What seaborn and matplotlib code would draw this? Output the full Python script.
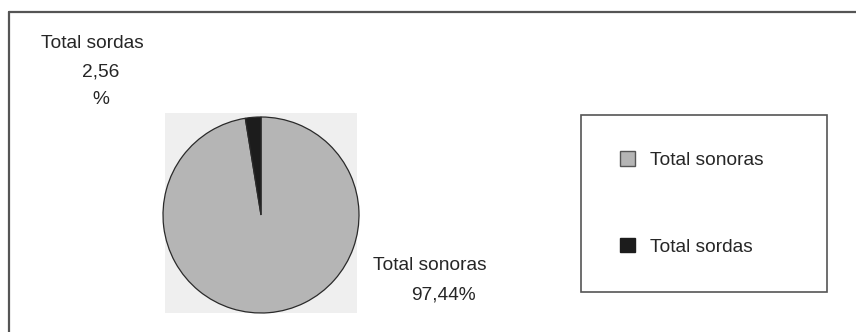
import matplotlib
matplotlib.use("Agg")
import matplotlib.pyplot as plt
from matplotlib.patches import Rectangle, Patch
from matplotlib.lines import Line2D
import seaborn as sns

categories = ["Total sonoras", "Total sordas"]
values = [97.44, 2.56]
colors = ["#b5b5b5", "#1c1c1c"]

sns.set_theme(style="white")
plt.rcParams["font.family"] = ["Liberation Sans", "DejaVu Sans"]

W, H = 856, 332
fig = plt.figure(figsize=(W / 100, H / 100), dpi=100)
fig.patch.set_facecolor("white")


def fx(px):
    return px / W


def fy(py):
    return 1 - py / H


# outer chart frame (top and left edges)
fig.add_artist(Line2D([fx(9), fx(9)], [fy(12), 0], color="#555555", lw=1.6))
fig.add_artist(Line2D([fx(9), 1], [fy(12), fy(12)], color="#555555", lw=1.6))

# plot area background
bg = fig.add_axes([fx(165), fy(313), fx(357) - fx(165), fy(113) - fy(313)])
bg.set_facecolor("#efefef")
bg.set_xticks([])
bg.set_yticks([])
for s in bg.spines.values():
    s.set_visible(False)

# pie
cx, cy, r = 261, 215, 98
ax = fig.add_axes([fx(cx - r), fy(cy + r), fx(2 * r), (2 * r) / H])
ax.set_facecolor("none")
wedges, _ = ax.pie(values, colors=colors, startangle=90, counterclock=False, radius=1.0,
                   wedgeprops=dict(edgecolor="#2a2a2a", linewidth=0.9))
ax.set_xlim(-1.0, 1.0)
ax.set_ylim(-1.0, 1.0)
ax.set_aspect("auto")
ax.axis("off")


def pct(v):
    return f"{v:.2f}".replace(".", ",")


fs = 13.8
tc = "#262626"
fig.text(fx(92), fy(43), categories[1], ha="center", va="center", fontsize=fs, color=tc)
fig.text(fx(101), fy(72), pct(values[1]), ha="center", va="center", fontsize=fs, color=tc)
fig.text(fx(101), fy(100), "%", ha="center", va="center", fontsize=fs, color=tc)

fig.text(fx(430), fy(266), categories[0], ha="center", va="center", fontsize=fs, color=tc)
fig.text(fx(443), fy(295), pct(values[0]) + "%", ha="center", va="center", fontsize=fs, color=tc)

# legend box
fig.add_artist(Rectangle((fx(581), fy(292)), fx(827) - fx(581), fy(115) - fy(292),
                         transform=fig.transFigure, fill=False, edgecolor="#555555", lw=1.2))

handles = [Patch(facecolor=colors[0], edgecolor="#555555", lw=1.0),
           Patch(facecolor=colors[1], edgecolor="#1c1c1c", lw=1.0)]
fig.legend(handles, categories, loc="center left",
           bbox_to_anchor=(fx(610), fy(203.5)), frameon=False, fontsize=fs,
           handlelength=0.8, handleheight=0.8, handletextpad=0.8,
           labelspacing=3.55, labelcolor=tc, borderpad=0)

fig.savefig("out.png", dpi=100, facecolor="white")
